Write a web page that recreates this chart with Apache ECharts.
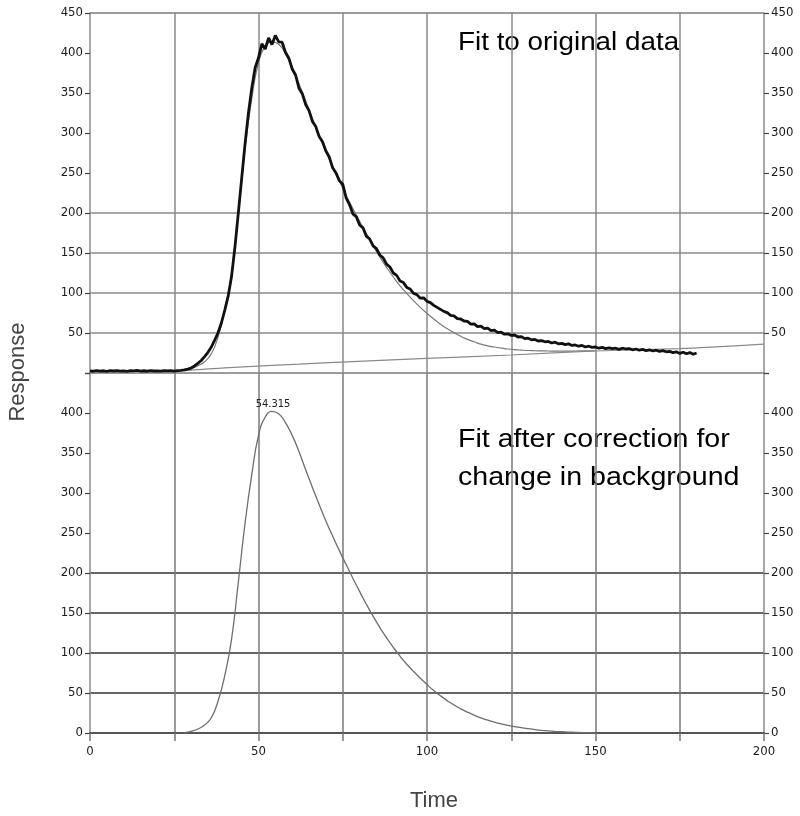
<!DOCTYPE html>
<html>
<head>
<meta charset="utf-8">
<script src="https://cdn.jsdelivr.net/npm/echarts@6/dist/echarts.min.js"></script>
<style>
  html, body { margin: 0; padding: 0; background: #fff; }
  #chart { width: 800px; height: 816px; }
</style>
</head>
<body>
<div id="chart"></div>
<script>
// raw detector signal, one reading per time unit from 0 to 180
const rawValues = [
  2.6, 2.2, 3.0, 2.4, 2.8, 2.1, 2.9, 2.5, 3.1, 2.3,
  2.7, 2.0, 2.9, 2.6, 3.2, 2.4, 2.8, 2.2, 3.0, 2.5,
  2.7, 2.3, 3.1, 2.6, 2.9, 2.4, 3.0, 3.2, 3.8, 4.9,
  6.2, 8.8, 12.1, 15.6, 20.4, 25.8, 32.5, 41.2, 50.3, 62.8,
  78.5, 96.0, 120.5, 157.0, 199.5, 243.0, 286.0, 324.5, 356.0, 381.5,
  394.0, 411.5, 405.0, 419.0, 410.5, 422.0, 414.0, 413.5, 401.0, 393.5,
  380.0, 372.5, 356.0, 349.0, 335.5, 328.0, 314.5, 308.0, 295.5, 289.0,
  277.5, 270.0, 256.5, 250.0, 240.5, 236.0, 219.0, 210.5, 199.0, 195.5,
  185.0, 181.5, 171.0, 167.5, 159.0, 155.5, 147.5, 144.0, 136.0, 132.5,
  125.0, 122.0, 115.0, 113.0, 107.0, 105.0, 99.5, 98.0, 93.5, 94.0,
  89.5, 88.0, 84.5, 82.0, 79.5, 77.0, 75.5, 72.0, 71.5, 68.0,
  67.5, 65.0, 64.5, 61.0, 61.5, 58.0, 58.5, 55.5, 56.0, 53.0,
  53.5, 50.5, 51.0, 48.5, 49.0, 47.0, 47.5, 45.0, 45.5, 43.0,
  43.5, 41.5, 42.0, 40.0, 40.5, 39.0, 39.5, 37.5, 38.5, 36.5,
  37.0, 35.5, 36.5, 34.5, 35.0, 33.5, 34.5, 32.5, 33.5, 32.0,
  32.5, 31.0, 32.0, 30.5, 31.5, 30.5, 31.0, 29.5, 31.0, 30.0,
  30.5, 29.0, 30.0, 28.5, 29.5, 28.0, 29.0, 27.5, 28.5, 27.0,
  28.0, 26.5, 27.0, 25.5, 26.5, 24.5, 26.0, 24.0, 25.5, 23.5,
  25.0
]

// time points of both fitted curves (every 2 units, 28 to 150)
const fitTime = [
  28, 30, 32, 34, 36, 38, 40, 42, 44, 46, 48, 50, 52, 54, 56, 58, 60, 62, 64, 66,
  68, 70, 72, 74, 76, 78, 80, 82, 84, 86, 88, 90, 92, 94, 96, 98, 100, 102, 104, 106,
  108, 110, 112, 114, 116, 118, 120, 122, 124, 126, 128, 130, 132, 134, 136, 138, 140, 142, 144, 146,
  148, 150
]

// fitted peak, top panel (background included)
const topFitValue = [
  3.5, 5.5, 9, 14, 24, 45, 79, 124, 198, 280, 343, 388, 409, 414, 411, 399, 382, 362, 340, 318,
  297, 277, 258, 240, 222, 205.5, 189.5, 174, 159, 145, 132, 120, 109, 99.5, 90.5, 82, 74.5, 67.5, 61, 55.5,
  50.5, 46, 42, 39, 36, 34, 32.5, 31, 30, 29.2, 28.6, 28.1, 27.8, 27.6, 27.5, 27.4, 27.4, 27.4, 27.5, 27.6,
  27.7, 27.8
]

// fitted peak after background correction, bottom panel
const corrValue = [
  0.5, 2, 5, 10, 19, 40, 72, 117, 188, 262, 323, 372, 395, 402, 399, 388, 372, 352, 329, 307,
  285.5, 265, 246, 228, 210.5, 193.5, 177, 161, 146, 132, 119, 107, 96, 86, 77, 68.5, 60.5, 53, 46.5, 40.5,
  35, 30.2, 26, 22.3, 19, 16.2, 13.7, 11.5, 9.6, 8, 6.6, 5.4, 4.3, 3.4, 2.7, 2.1, 1.6, 1.2, 0.8, 0.5,
  0.25, 0
]

// changing background
const bgTime = [28, 40, 62, 71, 98, 125, 150, 175, 187, 200]
const bgValue = [3, 6.5, 11, 13, 18, 22.5, 27.5, 30.5, 33, 36]

const peakTime = 54.3
const peakValue = 402
const peakLabel = '54.315'

const xTicks = [0, 50, 100, 150, 200]

const chart = echarts.init(document.getElementById('chart'))

const narrow = "'DejaVu Sans Condensed', 'Liberation Sans Narrow', 'Liberation Sans', sans-serif"
const sans = "'Liberation Sans', Arial, sans-serif"

const pairs = (xs, ys) => xs.map((x, i) => [x, ys[i]])

const topLines = ['#9c9c9c', '#a8a8a8', '#a8a8a8', '#a8a8a8', '#a8a8a8',
  'rgba(0,0,0,0)', 'rgba(0,0,0,0)', 'rgba(0,0,0,0)', 'rgba(0,0,0,0)', '#9c9c9c']
const bottomLines = ['#555', '#666', '#666', '#666', '#666',
  'rgba(0,0,0,0)', 'rgba(0,0,0,0)', 'rgba(0,0,0,0)', 'rgba(0,0,0,0)', 'rgba(0,0,0,0)']

const labelStyle = { color: '#1a1a1a', fontFamily: narrow, fontSize: 13 }

const makeY = (gridIndex, position, hide, splitColors) => ({
  type: 'value',
  gridIndex,
  position,
  min: 0,
  max: 450,
  interval: 50,
  axisLine: { show: true, lineStyle: { color: '#8c8c8c', width: 1.5 } },
  axisTick: { show: true, length: 5, lineStyle: { color: '#444', width: 1.2 } },
  axisLabel: Object.assign({ margin: 7, formatter: v => (v === hide ? '' : String(v)) }, labelStyle),
  splitLine: splitColors
    ? { show: true, showMinLine: true, showMaxLine: true, lineStyle: { color: splitColors, width: 2 } }
    : { show: false }
})

chart.setOption({
  animation: false,
  backgroundColor: '#fff',
  grid: [
    { left: 90, right: 36, top: 13, height: 360, outerBoundsMode: 'none' },
    { left: 90, right: 36, top: 373, height: 360, outerBoundsMode: 'none' }
  ],
  xAxis: [
    {
      type: 'value', gridIndex: 0, min: 0, max: 200, interval: 25,
      axisLine: { show: false }, axisTick: { show: false }, axisLabel: { show: false },
      splitLine: { show: true, showMinLine: false, showMaxLine: false, lineStyle: { color: '#8a8a8a', width: 1.5 } }
    },
    {
      type: 'value', gridIndex: 1, min: 0, max: 200, interval: 25,
      axisLine: { show: true, lineStyle: { color: '#555', width: 2 } },
      axisTick: { show: true, length: 8, lineStyle: { color: '#777', width: 1.5 } },
      axisLabel: Object.assign({ margin: 12, formatter: v => (xTicks.includes(v) ? String(v) : '') }, labelStyle),
      splitLine: { show: true, showMinLine: false, showMaxLine: false, lineStyle: { color: '#7a7a7a', width: 1.5 } }
    }
  ],
  yAxis: [
    makeY(0, 'left', 0, topLines),
    makeY(0, 'right', 0, null),
    makeY(1, 'left', 450, bottomLines),
    makeY(1, 'right', 450, null)
  ],
  series: [
    {
      name: 'Background',
      type: 'line', xAxisIndex: 0, yAxisIndex: 0,
      data: pairs(bgTime, bgValue),
      showSymbol: false, smooth: 0.3,
      lineStyle: { color: '#8a8a8a', width: 1.2 }
    },
    {
      name: 'Fit',
      type: 'line', xAxisIndex: 0, yAxisIndex: 0,
      data: pairs(fitTime, topFitValue),
      showSymbol: false, smooth: 0.5,
      lineStyle: { color: '#7a7a7a', width: 1.2 }
    },
    {
      name: 'Original data',
      type: 'line', xAxisIndex: 0, yAxisIndex: 0,
      data: rawValues.map((v, i) => [i, v]),
      showSymbol: false,
      lineStyle: { color: '#111', width: 2.8 },
      z: 3
    },
    {
      name: 'Corrected fit',
      type: 'line', xAxisIndex: 1, yAxisIndex: 2,
      data: pairs(fitTime, corrValue),
      showSymbol: false, smooth: 0.5,
      lineStyle: { color: '#6e6e6e', width: 1.3 },
      markPoint: {
        symbol: 'circle', symbolSize: 0,
        data: [{ coord: [peakTime, peakValue], value: peakLabel }],
        label: { show: true, position: 'top', distance: 2, formatter: peakLabel,
          color: '#222', fontFamily: narrow, fontSize: 11 }
      }
    }
  ],
  graphic: [
    { type: 'text', left: 458, top: 30, scaleX: 1.07,
      style: { text: 'Fit to original data', font: '26px ' + sans, fill: '#000' } },
    { type: 'text', left: 458, top: 427, scaleX: 1.1,
      style: { text: 'Fit after correction for', font: '26px ' + sans, fill: '#000' } },
    { type: 'text', left: 458, top: 465, scaleX: 1.1,
      style: { text: 'change in background', font: '26px ' + sans, fill: '#000' } },
    { type: 'text', x: 18, y: 372, rotation: Math.PI / 2,
      style: { text: 'Response', font: '22px ' + sans, fill: '#444', align: 'center', verticalAlign: 'middle' } },
    { type: 'text', x: 434, y: 801,
      style: { text: 'Time', font: '22px ' + sans, fill: '#444', align: 'center', verticalAlign: 'middle' } }
  ]
})

window.addEventListener('resize', () => chart.resize())
</script>
</body>
</html>
